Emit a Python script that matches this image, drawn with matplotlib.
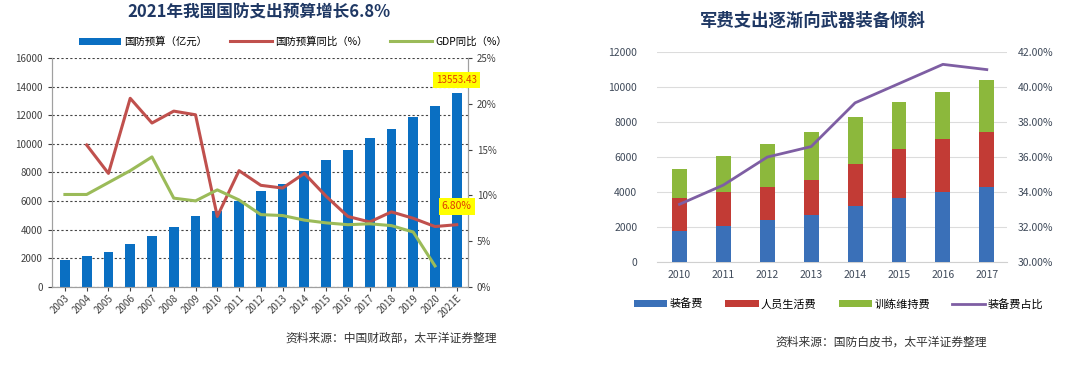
import matplotlib
matplotlib.use("Agg")
import matplotlib.pyplot as plt
import numpy as np
from matplotlib.ticker import FuncFormatter

plt.rcParams['font.family'] = ['Noto Sans CJK SC', 'DejaVu Sans']

# left chart data
years = ['2003', '2004', '2005', '2006', '2007', '2008', '2009', '2010', '2011', '2012',
         '2013', '2014', '2015', '2016', '2017', '2018', '2019', '2020', '2021E']
budget = [1907.87, 2172.79, 2474.96, 2979.38, 3554.91, 4178.76, 4951.10, 5333.37, 6011.56, 6703.0,
          7201.68, 8082.30, 8868.98, 9543.54, 10432.37, 11069.51, 11898.76, 12680.05, 13553.43]
budget_yoy = [np.nan, 15.5, 12.4, 20.6, 17.9, 19.2, 18.8, 7.7, 12.7, 11.1,
              10.8, 12.4, 9.9, 7.7, 7.1, 8.2, 7.5, 6.6, 6.8]
gdp_yoy = [10.1, 10.1, 11.4, 12.7, 14.2, 9.7, 9.4, 10.6, 9.5, 7.9,
           7.8, 7.3, 7.0, 6.8, 6.9, 6.7, 6.0, 2.3, np.nan]

# right chart data
years2 = ['2010', '2011', '2012', '2013', '2014', '2015', '2016', '2017']
equip = [1774, 2080, 2400, 2690, 3200, 3640, 3980, 4300]
personnel = [1860, 1940, 1905, 2000, 2400, 2820, 3050, 3150]
training = [1700, 2035, 2420, 2760, 2700, 2690, 2700, 2950]
equip_share = [33.3, 34.4, 36.0, 36.6, 39.1, 40.2, 41.3, 41.0]

navy = '#1f3864'
tick_c = '#404040'

fig = plt.figure(figsize=(10.8, 3.67), dpi=100)

# ---------- left ----------
ax = fig.add_axes([0.048, 0.218, 0.385, 0.624])
x = np.arange(len(years))
ax.bar(x, budget, width=0.45, color='#0a6fc2', label='国防预算（亿元）', zorder=3)
ax.set_ylim(0, 16000)
ax.set_yticks(np.arange(0, 16001, 2000))
ax.set_xlim(-0.6, len(years) - 0.5)
ax.set_xticks(x)
ax.set_xticklabels(years, rotation=45, ha='right', rotation_mode='anchor', fontsize=7)
ax.tick_params(axis='y', labelsize=7, colors=tick_c, length=3)
ax.tick_params(axis='x', colors=tick_c, length=3, pad=1)
ax.grid(axis='y', linestyle=(0, (2, 2)), color='#444444', linewidth=0.8, zorder=0)
ax.spines['top'].set_visible(False)
for s in ['left', 'bottom', 'right']:
    ax.spines[s].set_color('#a0a0a0')

ax2 = ax.twinx()
ax2.plot(x, budget_yoy, color='#c0504d', linewidth=2.2, label='国防预算同比（%）', zorder=4)
ax2.plot(x, gdp_yoy, color='#9bbb59', linewidth=2.2, label='GDP同比（%）', zorder=4)
ax2.set_ylim(0, 25)
ax2.set_yticks(np.arange(0, 26, 5))
ax2.yaxis.set_major_formatter(FuncFormatter(lambda v, p: f'{v:.0f}%'))
ax2.tick_params(axis='y', labelsize=7, colors=tick_c, length=3)
ax2.spines['top'].set_visible(False)
for s in ['left', 'bottom', 'right']:
    ax2.spines[s].set_color('#a0a0a0')

h1, l1 = ax.get_legend_handles_labels()
h2, l2 = ax2.get_legend_handles_labels()
ax.legend(h1 + h2, l1 + l2, ncol=3, loc='center', bbox_to_anchor=(0.58, 1.07),
          frameon=False, fontsize=7.5, handlelength=4, columnspacing=2.2,
          handletextpad=0.3)

ax2.annotate(f'{budget[-1]:.2f}', xy=(x[-1], 22.6), ha='center', va='center',
             fontsize=7, color='#e03c00',
             bbox=dict(boxstyle='square,pad=0.3', fc='#ffff00', ec='none'))
ax2.annotate(f'{budget_yoy[-1]:.2f}%', xy=(x[-1], 8.8), ha='center', va='center',
             fontsize=7.5, color='#e03c00',
             bbox=dict(boxstyle='square,pad=0.3', fc='#ffff00', ec='none'))

fig.text(0.24, 0.965, '2021年我国国防支出预算增长6.8%', ha='center', va='center',
         fontsize=12, fontweight='bold', color=navy)
fig.text(0.46, 0.078, '资料来源：中国财政部，太平洋证券整理', ha='right', va='center',
         fontsize=8.5, color='#333333')

# ---------- right ----------
bx = fig.add_axes([0.608, 0.286, 0.324, 0.572])
x2 = np.arange(len(years2))
w = 0.34
bx.bar(x2, equip, width=w, color='#3a70b8', label='装备费', zorder=3)
bx.bar(x2, personnel, width=w, bottom=equip, color='#c23b35', label='人员生活费', zorder=3)
bot2 = np.array(equip) + np.array(personnel)
bx.bar(x2, training, width=w, bottom=bot2, color='#8cb83c', label='训练维持费', zorder=3)
bx.set_ylim(0, 12000)
bx.set_yticks(np.arange(0, 12001, 2000))
bx.set_xlim(-0.52, len(years2) - 0.55)
bx.set_xticks(x2)
bx.set_xticklabels(years2, fontsize=7.5, color='#3f4a5a')
bx.tick_params(axis='y', labelsize=7.5, colors='#3f4a5a', length=0, pad=14)
bx.tick_params(axis='x', length=0, pad=6)
bx.grid(axis='y', color='#dcdcdc', linewidth=0.8, zorder=0)
for s in ['top', 'left', 'right']:
    bx.spines[s].set_visible(False)
bx.spines['bottom'].set_color('#d0d0d0')

bx2 = bx.twinx()
bx2.plot(x2, equip_share, color='#7e5ea3', linewidth=2, label='装备费占比', zorder=4)
bx2.set_ylim(30, 42)
bx2.set_yticks(np.arange(30, 42.1, 2))
bx2.yaxis.set_major_formatter(FuncFormatter(lambda v, p: f'{v:.2f}%'))
bx2.tick_params(axis='y', labelsize=7.5, colors='#3f4a5a', length=0, pad=8)
for s in ['top', 'left', 'right', 'bottom']:
    bx2.spines[s].set_visible(False)

g1, m1 = bx.get_legend_handles_labels()
g2, m2 = bx2.get_legend_handles_labels()
bx.legend(g1 + g2, m1 + m2, ncol=4, loc='center', bbox_to_anchor=(0.52, -0.2),
          frameon=False, fontsize=8, handlelength=3, handleheight=0.5,
          columnspacing=2.0, handletextpad=0.2)

fig.text(0.753, 0.945, '军费支出逐渐向武器装备倾斜', ha='center', va='center',
         fontsize=12.5, fontweight='bold', color=navy)
fig.text(0.816, 0.068, '资料来源：国防白皮书，太平洋证券整理', ha='center', va='center',
         fontsize=8.5, color='#333333')

fig.savefig('out.png', dpi=100)
